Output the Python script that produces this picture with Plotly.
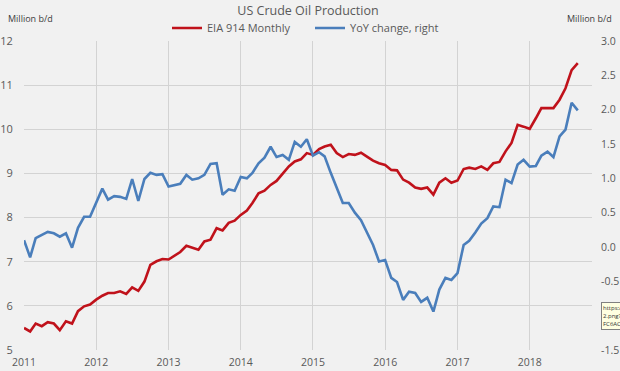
import pandas as pd
import plotly.graph_objects as go

# ---- data ----
months = pd.date_range("2011-01-01", periods=93, freq="MS")

eia914_monthly = [
    5.50, 5.42, 5.60, 5.54, 5.63, 5.60, 5.45, 5.65, 5.60, 5.88, 5.99, 6.03,
    6.14, 6.23, 6.29, 6.29, 6.33, 6.27, 6.42, 6.34, 6.55, 6.93, 7.01, 7.06,
    7.05, 7.15, 7.22, 7.36, 7.31, 7.27, 7.46, 7.50, 7.76, 7.71, 7.88, 7.93,
    8.06, 8.16, 8.33, 8.55, 8.61, 8.74, 8.83, 8.99, 9.16, 9.27, 9.32, 9.46,
    9.42, 9.55, 9.61, 9.65, 9.46, 9.37, 9.44, 9.42, 9.47, 9.38, 9.29, 9.23,
    9.19, 9.08, 9.07, 8.86, 8.79, 8.68, 8.65, 8.68, 8.52, 8.79, 8.89, 8.79,
    8.84, 9.10, 9.13, 9.10, 9.16, 9.08, 9.23, 9.26, 9.50, 9.69, 10.10, 10.06,
    10.01, 10.25, 10.48, 10.48, 10.48, 10.67, 10.93, 11.34, 11.50,
]

yoy_change = [
    0.10, -0.15, 0.13, 0.18, 0.22, 0.20, 0.15, 0.20, -0.01, 0.28, 0.44, 0.44,
    0.64, 0.85, 0.69, 0.74, 0.73, 0.70, 0.99, 0.67, 0.99, 1.08, 1.05, 1.06,
    0.88, 0.90, 0.92, 1.05, 0.98, 1.00, 1.05, 1.21, 1.22, 0.76, 0.84, 0.82,
    1.02, 1.00, 1.08, 1.22, 1.30, 1.46, 1.31, 1.34, 1.27, 1.53, 1.46, 1.57,
    1.33, 1.38, 1.32, 1.08, 0.86, 0.64, 0.64, 0.50, 0.39, 0.22, 0.03, -0.21,
    -0.19, -0.45, -0.51, -0.77, -0.65, -0.67, -0.80, -0.74, -0.94, -0.62, -0.45, -0.48,
    -0.38, 0.03, 0.09, 0.21, 0.34, 0.42, 0.59, 0.58, 0.98, 0.93, 1.20, 1.27,
    1.17, 1.18, 1.33, 1.39, 1.31, 1.61, 1.71, 2.10, 1.99,
]

year_ticks = [f"{y}-01-01" for y in range(2011, 2019)]
year_labels = [str(y) for y in range(2011, 2019)]
left_ticks = [5, 6, 7, 8, 9, 10, 11, 12]
right_ticks = [-1.5, -1.0, -0.5, 0.0, 0.5, 1.0, 1.5, 2.0, 2.5, 3.0]
# the -1.0 label is hidden behind the small tooltip box in the reference
right_labels = ["-1.5", "", "-0.5", "0.0", "0.5", "1.0", "1.5", "2.0", "2.5", "3.0"]

# ---- styling ----
BG = "#f1f1f1"
GRID = "#d3d3d3"
TXT = "#595959"
FONT = "Open Sans"
W, H = 620, 371

fig = go.Figure()
fig.add_trace(go.Scatter(
    x=months, y=eia914_monthly, name="EIA 914 Monthly", mode="lines",
    line=dict(color="#c0121b", width=2.6), yaxis="y",
))
fig.add_trace(go.Scatter(
    x=months, y=yoy_change, name="YoY change, right", mode="lines",
    line=dict(color="#4a7ebb", width=2.6), yaxis="y2",
))

fig.update_layout(
    width=W, height=H,
    margin=dict(l=24, r=28, t=41, b=21, autoexpand=False),
    paper_bgcolor=BG, plot_bgcolor=BG,
    font=dict(family=FONT, color=TXT, size=11),
    title=dict(text="US Crude Oil Production", x=0.5, xref="paper", xanchor="center",
               yref="container", y=1 - 11 / H, yanchor="middle",
               font=dict(size=12.5, color=TXT, family=FONT)),
    showlegend=True,
    legend=dict(orientation="h", xref="container", x=310 / W, xanchor="center",
                yref="container", y=1 - 28 / H, yanchor="middle",
                bgcolor="rgba(0,0,0,0)", font=dict(size=11, color=TXT, family=FONT),
                itemwidth=30, entrywidth=98, tracegroupgap=0),
    xaxis=dict(
        type="date", range=["2011-01-01", "2018-11-12"],
        tickvals=year_ticks, ticktext=year_labels,
        showgrid=True, gridcolor=GRID, gridwidth=1,
        showline=False, zeroline=False,
        ticks="outside", ticklen=2, tickcolor="rgba(0,0,0,0)",
        tickfont=dict(size=10.5, color=TXT), ticklabeloverflow="allow",
    ),
    yaxis=dict(
        range=[5, 12], tickvals=left_ticks,
        showgrid=True, gridcolor=GRID, gridwidth=1,
        showline=False, zeroline=False,
        ticks="outside", ticklen=8, tickcolor="rgba(0,0,0,0)",
        tickfont=dict(size=11, color=TXT), ticklabeloverflow="allow",
    ),
    yaxis2=dict(
        range=[-1.5, 3.0], tickvals=right_ticks, ticktext=right_labels,
        overlaying="y", side="right",
        showgrid=False, showline=False, zeroline=False,
        ticks="outside", ticklen=6, tickcolor="rgba(0,0,0,0)",
        tickfont=dict(size=10.5, color=TXT), ticklabeloverflow="allow",
    ),
)

fig.add_annotation(text="Million b/d", xref="paper", yref="paper",
                   x=-18 / 568, y=(350 - 18) / 309, xanchor="left", yanchor="middle",
                   showarrow=False, font=dict(size=9, color="#404040", family=FONT))
fig.add_annotation(text="Million b/d", xref="paper", yref="paper",
                   x=(614 - 24) / 568, y=(350 - 18) / 309, xanchor="right", yanchor="middle",
                   showarrow=False, font=dict(size=9, color="#404040", family=FONT))
# small tooltip-like box seen at the bottom right of the reference
fig.add_annotation(text="https:/<br>2.png?<br>FC6AC", xref="paper", yref="paper",
                   x=(601 - 24) / 568, y=(350 - 302) / 309, xanchor="left", yanchor="top",
                   align="left", showarrow=False, bgcolor="#ffffe1", bordercolor="#808080",
                   borderwidth=1, borderpad=1, font=dict(size=6, color="#333333", family=FONT))

fig.write_html(
    "out.html",
    config={"displayModeBar": False},
    post_script="document.body.style.margin='0';document.body.style.background='#f1f1f1';",
)
